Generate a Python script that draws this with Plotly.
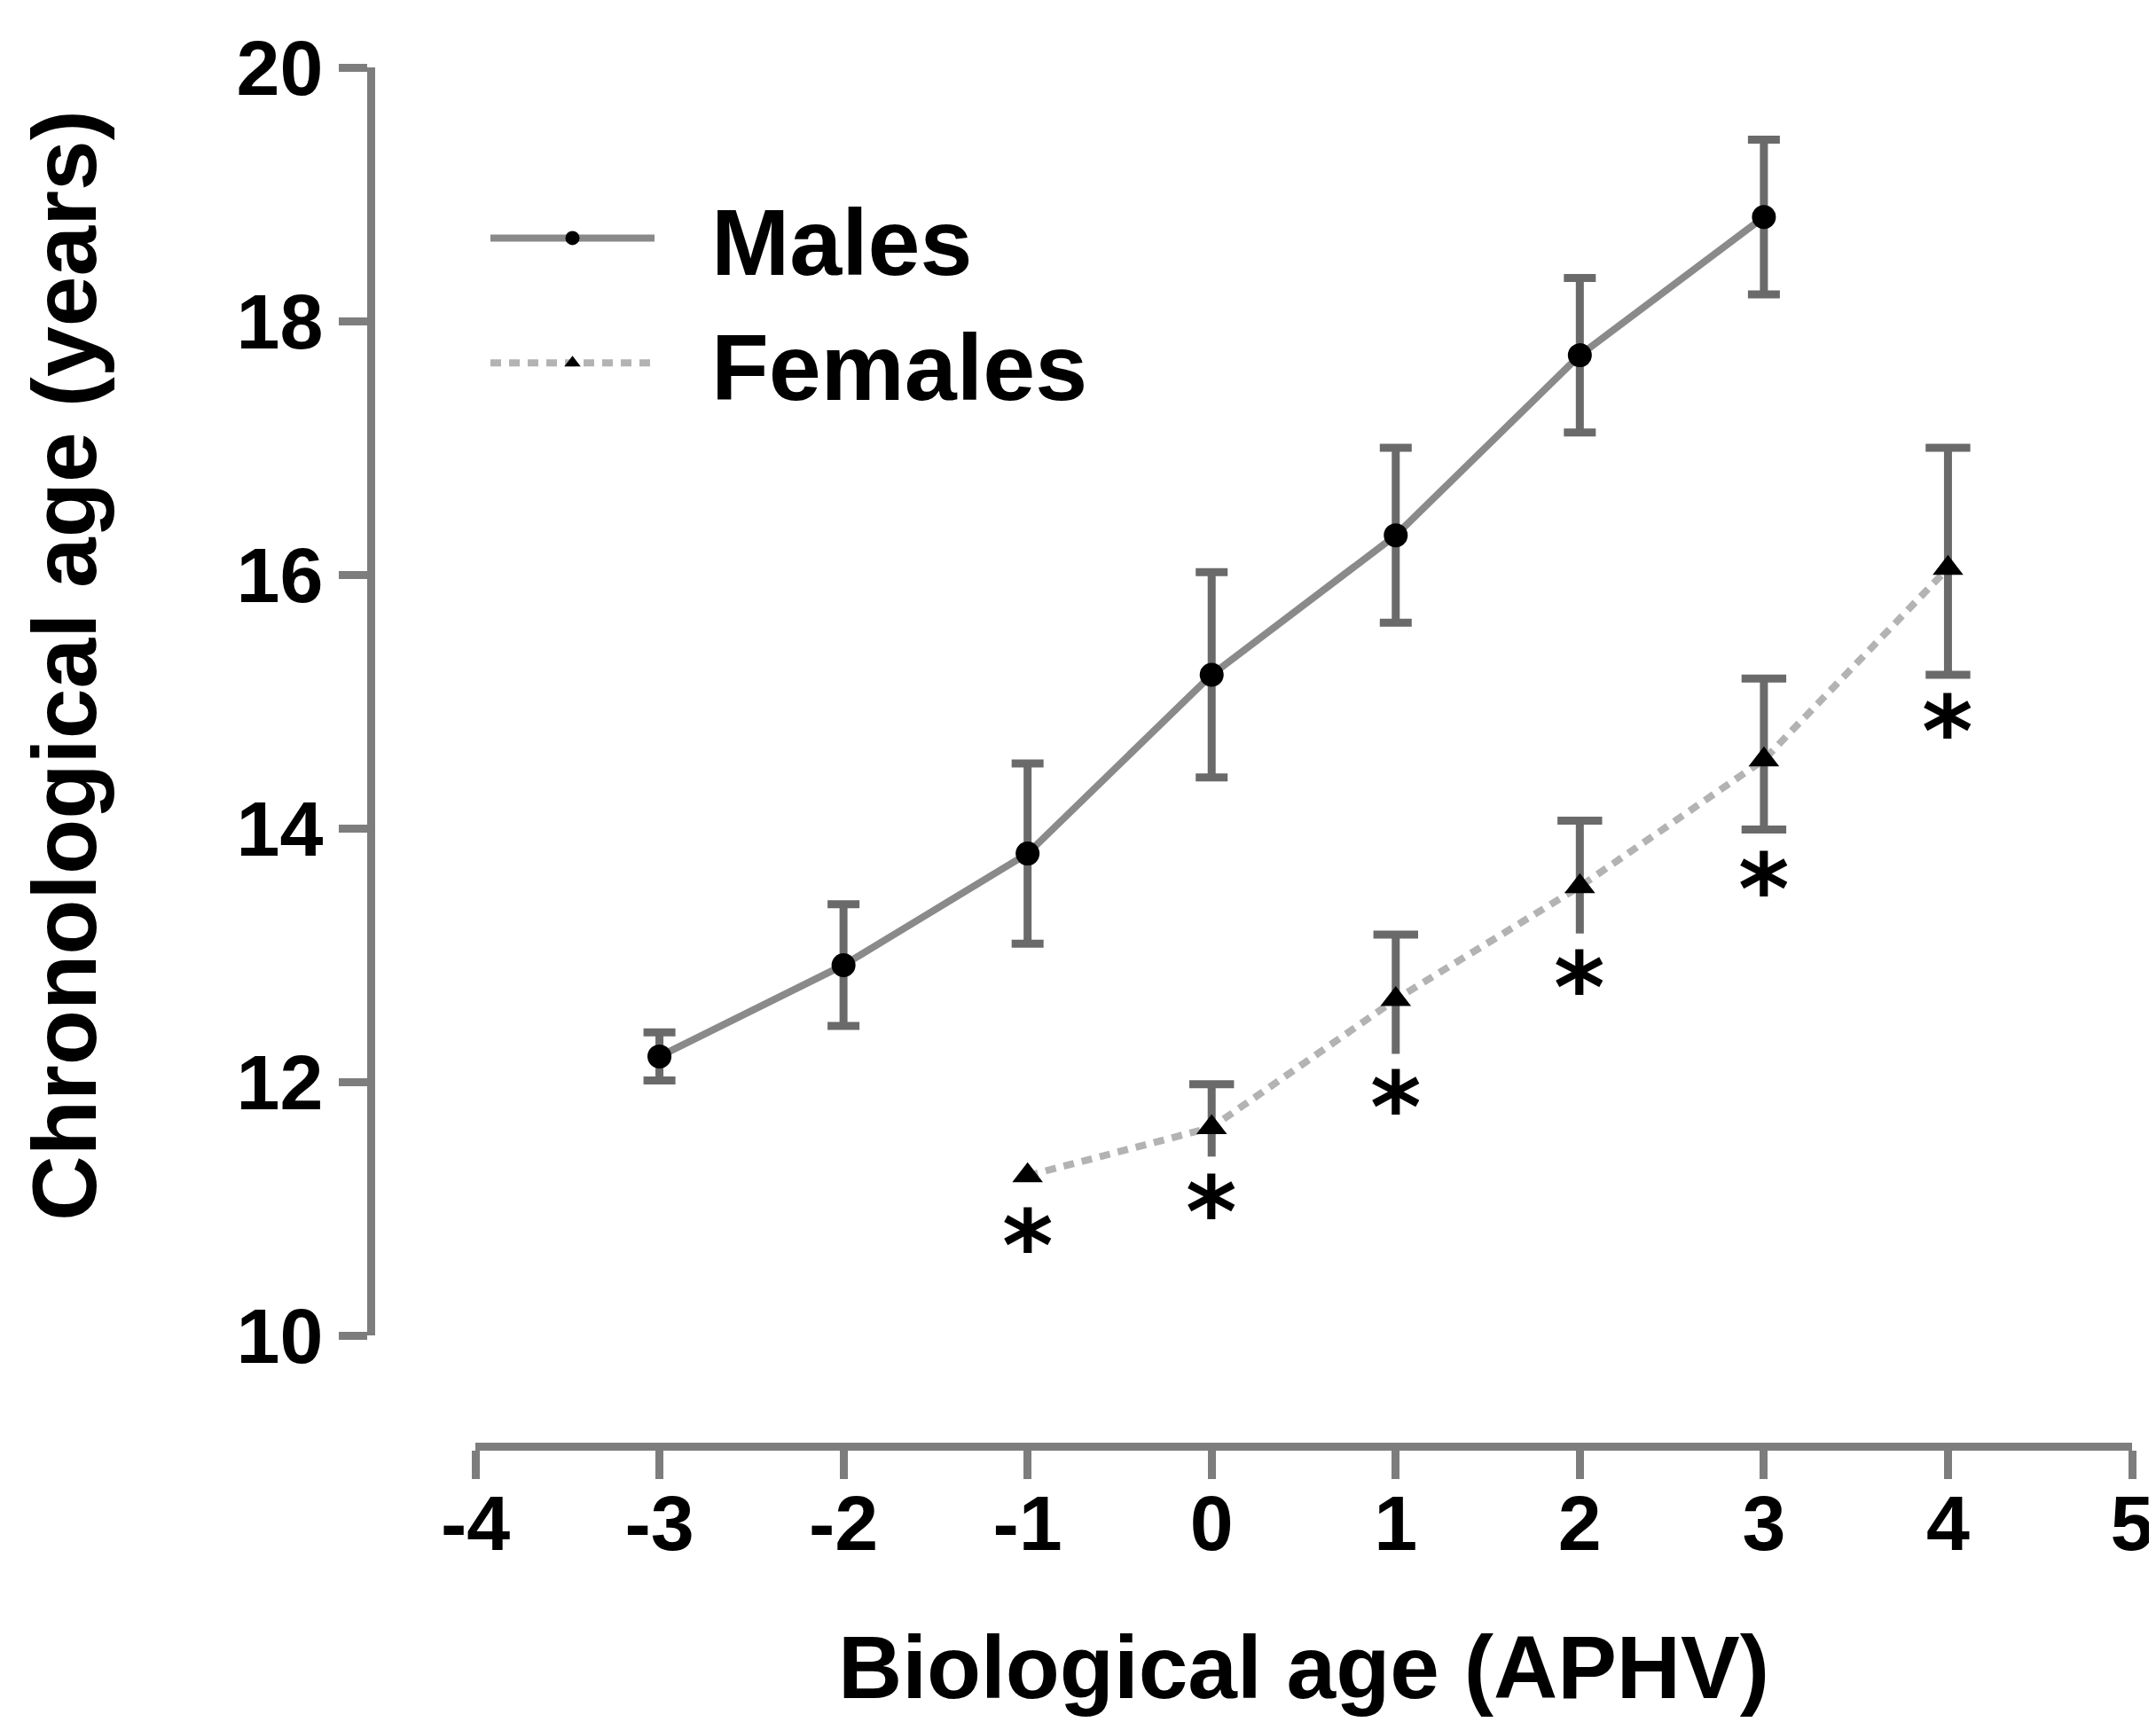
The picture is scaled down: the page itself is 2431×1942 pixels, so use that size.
import plotly.graph_objects as go

# ---------------- data ----------------
x_males = [-3, -2, -1, 0, 1, 2, 3]
males_mean = [12.20, 12.92, 13.80, 15.21, 16.31, 17.73, 18.82]
males_err = [0.19, 0.48, 0.71, 0.81, 0.69, 0.61, 0.61]

x_females = [-1, 0, 1, 2, 3, 4]
females_mean = [11.26, 11.64, 12.65, 13.54, 14.54, 16.05]
females_err_upper = [0.0, 0.34, 0.51, 0.52, 0.64, 0.95]
females_err_lower = [0.0, 0.23, 0.43, 0.37, 0.55, 0.84]
females_upper_cap = [False, True, True, True, True, True]
females_lower_cap = [False, False, False, False, True, True]

star_x = [-1, 0, 1, 2, 3, 4]
star_y = [10.80, 11.06, 11.89, 12.83, 13.61, 14.85]

x_ticks = [-4, -3, -2, -1, 0, 1, 2, 3, 4, 5]
x_ticklabels = ["-4", "-3", "-2", "-1", "0", "1", "2", "3", "4", "5"]
y_ticks = [10, 12, 14, 16, 18, 20]
y_ticklabels = ["10", "12", "14", "16", "18", "20"]

legend_names = ["Males", "Females"]
x_title = "Biological age (APHV)"
y_title = "Chronological age (years)"

# ---------------- style ----------------
W, H = 2431, 1942
FONT = "Liberation Sans"
AXIS_GREY = "#7d7d7d"
ERR_GREY = "#6a6a6a"
MALE_LINE = "#8a8a8a"
FEMALE_LINE = "#b3b3b3"
NBSP = "\u00a0"

fig = go.Figure()

# Males
fig.add_trace(go.Scatter(
    x=x_males, y=males_mean, name=NBSP * 2 + legend_names[0],
    mode="lines+markers", legendgroup="m",
    line=dict(color=MALE_LINE, width=8),
    marker=dict(symbol="circle", size=27, color="black"),
    error_y=dict(type="data", array=males_err, symmetric=True,
                 color=ERR_GREY, thickness=9, width=18),
))

# Females error bars (bars without caps)
fig.add_trace(go.Scatter(
    x=x_females, y=females_mean, mode="markers", showlegend=False,
    hoverinfo="skip",
    marker=dict(size=1, opacity=0),
    error_y=dict(type="data", symmetric=False, array=females_err_upper,
                 arrayminus=females_err_lower, color=ERR_GREY,
                 thickness=9, width=0),
))

# Females caps
cap_x, cap_y = [], []
for xi, yi, up, lo, cu, cl in zip(x_females, females_mean, females_err_upper,
                                  females_err_lower, females_upper_cap,
                                  females_lower_cap):
    if cu:
        cap_x.append(xi)
        cap_y.append(yi + up)
    if cl:
        cap_x.append(xi)
        cap_y.append(yi - lo)
fig.add_trace(go.Scatter(
    x=cap_x, y=cap_y, mode="markers", showlegend=False, hoverinfo="skip",
    marker=dict(symbol="line-ew", size=36,
                line=dict(color=ERR_GREY, width=9)),
))

# Females
fig.add_trace(go.Scatter(
    x=x_females, y=females_mean, name=NBSP * 2 + legend_names[1],
    mode="lines+markers", legendgroup="f",
    line=dict(color=FEMALE_LINE, width=8, dash="12px,9px"),
    marker=dict(symbol="triangle-up", size=30, color="black"),
))

# significance asterisks
for sx, sy in zip(star_x, star_y):
    fig.add_annotation(
        x=sx, y=sy, xref="x", yref="y", text="*", showarrow=False,
        font=dict(family="DejaVu Sans", size=110, color="black", weight="bold"),
        yanchor="middle", xanchor="center", yshift=-14,
    )

# y-axis title
fig.add_annotation(
    x=65 / W, y=1 - 743 / H, xref="paper", yref="paper",
    text=y_title, textangle=-90, showarrow=False,
    font=dict(family=FONT, size=102, color="black", weight="bold"),
    xanchor="center", yanchor="middle",
)

fig.update_layout(
    width=W, height=H,
    margin=dict(l=0, r=0, t=0, b=0, autoexpand=False),
    paper_bgcolor="white", plot_bgcolor="white",
    showlegend=True,
    legend=dict(
        x=540 / W, y=1 - 185 / H, xanchor="left", yanchor="top",
        font=dict(family=FONT, size=106, color="black", weight="bold"),
        itemwidth=185, tracegroupgap=0, bgcolor="rgba(0,0,0,0)",
        borderwidth=0,
    ),
    xaxis=dict(
        range=[-4, 5], domain=[528 / W, 2396 / W],
        anchor="free", position=1 - 1623 / H,
        showline=True, linecolor=AXIS_GREY, linewidth=9,
        ticks="outside", ticklen=32, tickwidth=9, tickcolor=AXIS_GREY,
        tickvals=x_ticks, ticktext=x_ticklabels,
        ticklabeloverflow="allow", ticklabelstandoff=-26,
        tickfont=dict(family=FONT, size=88, color="black", weight="bold"),
        showgrid=False, zeroline=False,
        title=dict(text=x_title, standoff=79,
                   font=dict(family=FONT, size=100, color="black", weight="bold")),
    ),
    yaxis=dict(
        range=[10, 20], domain=[1 - 1498 / H, 1 - 68 / H],
        anchor="free", position=410 / W,
        showline=True, linecolor=AXIS_GREY, linewidth=9,
        ticks="outside", ticklen=32, tickwidth=9, tickcolor=AXIS_GREY,
        tickvals=y_ticks, ticktext=y_ticklabels,
        ticklabeloverflow="allow",
        tickfont=dict(family=FONT, size=88, color="black", weight="bold"),
        showgrid=False, zeroline=False,
    ),
)

fig.write_html("out.html")
